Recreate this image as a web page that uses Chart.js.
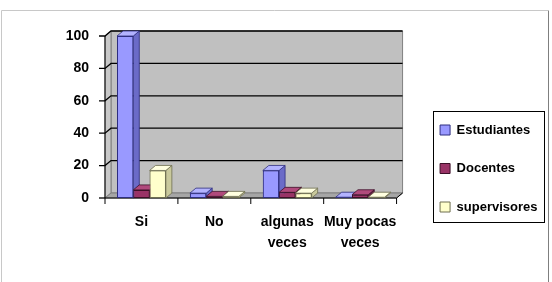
<!DOCTYPE html>
<html><head><meta charset="utf-8">
<script src="https://cdn.jsdelivr.net/npm/chart.js@4.4.0/dist/chart.umd.min.js"></script>
<style>html,body{margin:0;padding:0;background:#fff;}#wrap{width:552px;height:282px;}</style>
</head><body><div id="wrap"><canvas id="c" width="552" height="282"></canvas></div>
<script>
const categories = ['Si', 'No', ['algunas', 'veces'], ['Muy pocas', 'veces']];
const seriesNames = ['Estudiantes', 'Docentes', 'supervisores'];
const estudiantes = [100, 3, 17, 0.5];
const docentes = [5, 1, 3.5, 2];
const supervisores = [17, 1, 3, 0.5];
const yTicks = [0, 20, 40, 60, 80, 100];

const frontColors = ['#9999ff', '#993366', '#ffffcc'];
const sideColors = ['#6b6bc8', '#6a2347', '#c9c99c'];
const topColors = ['#b3b3ff', '#b04a7c', '#ffffe0'];
const edgeColors = ['#2e2e80', '#3d1028', '#6e6e50'];
const DX = 6, DY = 5;

const FAMILY = '"Liberation Sans", Arial, sans-serif';
const FONT = {family: FAMILY, size: 14, weight: 'bold'};
const LEGEND_FONT = {family: FAMILY, size: 13, weight: 'bold'};

function poly(ctx, pts, fill, stroke, lw) {
  ctx.beginPath();
  ctx.moveTo(pts[0][0], pts[0][1]);
  for (let i = 1; i < pts.length; i++) ctx.lineTo(pts[i][0], pts[i][1]);
  ctx.closePath();
  if (fill) { ctx.fillStyle = fill; ctx.fill(); }
  if (stroke) { ctx.strokeStyle = stroke; ctx.lineWidth = lw || 1; ctx.stroke(); }
}

const framePlugin = {
  id: 'frame',
  beforeDatasetsDraw(chart) {
    const {ctx, chartArea: a} = chart;
    const ys = chart.scales.y;
    const L = a.left, R = a.right, T = a.top, B = a.bottom;
    ctx.save();
    poly(ctx, [[L + DX, T - DY], [R + DX, T - DY], [R + DX, B - DY], [L + DX, B - DY]], '#c0c0c0', '#808080', 1);
    poly(ctx, [[L, T], [L + DX, T - DY], [L + DX, B - DY], [L, B]], '#c8c8c8', '#808080', 1);
    poly(ctx, [[L, B], [L + DX, B - DY], [R + DX, B - DY], [R, B]], '#a6a6a6', '#808080', 1);
    ctx.strokeStyle = '#000';
    ctx.lineWidth = 1.3;
    yTicks.forEach(v => {
      const y = ys.getPixelForValue(v);
      ctx.beginPath();
      ctx.moveTo(L - 6, y);
      ctx.lineTo(L, y);
      if (v > 0) {
        ctx.lineTo(L + DX, y - DY);
        ctx.lineTo(R + DX, y - DY);
      }
      ctx.stroke();
    });
    ctx.lineWidth = 1;
    ctx.beginPath();
    ctx.moveTo(L, T); ctx.lineTo(L, B); ctx.lineTo(R, B); ctx.lineTo(R + DX, B - DY);
    ctx.stroke();
    const n = categories.length;
    for (let i = 0; i <= n; i++) {
      const x = L + (R - L) * i / n;
      ctx.beginPath(); ctx.moveTo(x, B); ctx.lineTo(x, B + 6); ctx.stroke();
    }
    ctx.restore();
  },
  afterDatasetsDraw(chart) {
    const {ctx} = chart;
    ctx.save();
    chart.data.datasets.forEach((ds, i) => {
      const meta = chart.getDatasetMeta(i);
      meta.data.forEach(el => {
        const p = el.getProps(['x', 'y', 'base', 'width'], true);
        const l = p.x - p.width / 2, r = p.x + p.width / 2, t = Math.min(p.y, p.base), b = Math.max(p.y, p.base);
        poly(ctx, [[r, t], [r + DX, t - DY], [r + DX, b - DY], [r, b]], sideColors[i], edgeColors[i], 0.8);
        poly(ctx, [[l, t], [l + DX, t - DY], [r + DX, t - DY], [r, t]], topColors[i], edgeColors[i], 0.8);
        el.draw(ctx);
      });
    });
    ctx.restore();
  },
  afterDraw(chart) {
    const {ctx} = chart;
    ctx.save();
    const lg = chart.legend;
    const hb = lg.legendHitBoxes;
    if (hb && hb.length) {
      const x0 = hb[0].left - 7;
      const y0 = hb[0].top - 13;
      const y1 = hb[hb.length - 1].top + hb[hb.length - 1].height + 8;
      ctx.strokeStyle = '#000';
      ctx.lineWidth = 1;
      ctx.strokeRect(Math.round(x0) + 0.5, Math.round(y0) + 0.5, 111, Math.round(y1 - y0));
    }
    ctx.strokeStyle = '#c8c8c8';
    ctx.beginPath(); ctx.moveTo(1.5, 290); ctx.lineTo(1.5, 10.5); ctx.lineTo(548, 10.5); ctx.stroke();
    ctx.strokeStyle = '#7f7f7f';
    ctx.beginPath(); ctx.moveTo(548.5, 10.5); ctx.lineTo(548.5, 290); ctx.stroke();
    ctx.restore();
  }
};

const datasets = [estudiantes, docentes, supervisores].map((vals, i) => ({
  label: seriesNames[i],
  data: vals,
  backgroundColor: frontColors[i],
  borderColor: edgeColors[i],
  borderWidth: 1,
  borderSkipped: false,
  categoryPercentage: 0.67,
  barPercentage: 1.0
}));

new Chart(document.getElementById('c'), {
  type: 'bar',
  data: {labels: categories, datasets},
  options: {
    responsive: false,
    animation: false,
    devicePixelRatio: 1,
    layout: {padding: {top: 36, right: 4.5, bottom: 0, left: 0}},
    plugins: {
      legend: {
        position: 'right',
        maxWidth: 200,
        title: {display: true, text: '', font: {size: 10}, padding: {top: 7, bottom: 0}},
        labels: {boxWidth: 10, boxHeight: 10, padding: 25.5, color: '#000', font: LEGEND_FONT}
      },
      tooltip: {enabled: false}
    },
    scales: {
      x: {
        grid: {display: false, drawTicks: false},
        border: {display: false},
        ticks: {color: '#000', font: {...FONT, lineHeight: 1.5}, padding: 14, maxRotation: 0, autoSkip: false},
        afterFit: s => { s.height = 84; }
      },
      y: {
        min: 0, max: 100,
        grid: {display: false, drawTicks: false},
        border: {display: false},
        afterBuildTicks: s => { s.ticks = yTicks.map(v => ({value: v})); },
        ticks: {color: '#000', font: FONT, padding: 16},
        afterFit: s => { s.width = 105; }
      },
      gap: {
        type: 'linear', position: 'right', display: true,
        grid: {display: false, drawTicks: false},
        border: {display: false},
        ticks: {display: false},
        afterFit: s => { s.width = 18; }
      }
    }
  },
  plugins: [framePlugin]
});
</script></body></html>
